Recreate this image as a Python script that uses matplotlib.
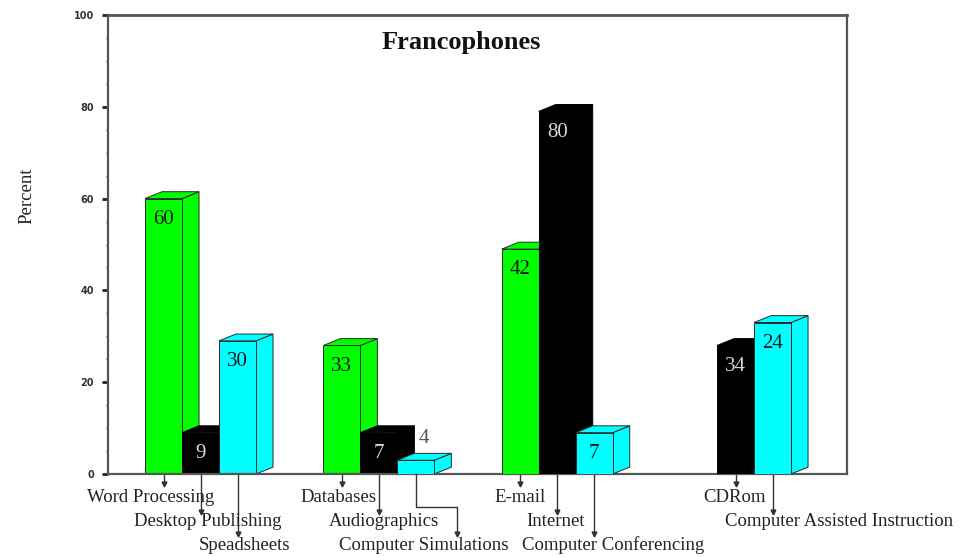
import matplotlib
matplotlib.use("Agg")
import matplotlib.pyplot as plt
from matplotlib.patches import Polygon
from matplotlib.ticker import MultipleLocator
from matplotlib.transforms import Affine2D, blended_transform_factory, offset_copy

# ---------------- data ----------------
title = "Francophones"
ylabel = "Percent"
categories = ["Word Processing", "Desktop Publishing", "Speadsheets",
              "Databases", "Audiographics", "Computer Simulations",
              "E-mail", "Internet", "Computer Conferencing",
              "CDRom", "Computer Assisted Instruction"]
bar_heights = [60, 9, 29, 28, 9, 3, 49, 79, 9, 28, 33]
value_labels = ["60", "9", "30", "33", "7", "4", "42", "80", "7", "34", "24"]
group_index = [0, 0, 0, 1, 1, 1, 2, 2, 2, 3, 3]
slot_index = [0, 1, 2, 0, 1, 2, 0, 1, 2, 1, 2]
yticks = [0, 20, 40, 60, 80, 100]

# ---------------- style / layout ----------------
slot_colors = ["#00ff00", "#000000", "#00ffff"]
label_rows = [0, 1, 2, 0, 1, 2, 0, 1, 2, 0, 1]
label_dx_px = [-13, 7, 7, -3, 5, 8, 0, -2, 19, -1, 67]
elbow_px = [0, 0, 0, 0, 0, 41, 0, 0, 0, 0, 0]
row_text_y = [498, 522, 545]
row_tip_y = [484, 512, 534]

W, H, DPI = 967, 557, 100
fig = plt.figure(figsize=(W / DPI, H / DPI), dpi=DPI)
ax_l, ax_r, ax_t, ax_b = 108, 847, 15, 474
ax = fig.add_axes([ax_l / W, 1 - ax_b / H, (ax_r - ax_l) / W, (ax_b - ax_t) / H])

bar_w = 1.0
start, gap = 1.0, 4.82
DX, DY = 0.46, 1.5
ax.set_xlim(0, (ax_r - ax_l) / 37.0)
ax.set_ylim(0, 100)

serif = ["Liberation Serif", "DejaVu Serif"]
edge = "#2a2a2a"

centers = []
for i, h in enumerate(bar_heights):
    s = slot_index[i]
    x0 = start + group_index[i] * gap + s * bar_w
    c = slot_colors[s]
    ec = "#000000" if s == 1 else edge
    z = 2 + i * 0.1
    side = Polygon([(x0 + bar_w, 0), (x0 + bar_w + DX, DY), (x0 + bar_w + DX, h + DY),
                    (x0 + bar_w, h)], closed=True, fc=c, ec=ec, lw=0.7, zorder=z)
    top = Polygon([(x0, h), (x0 + DX, h + DY), (x0 + bar_w + DX, h + DY), (x0 + bar_w, h)],
                  closed=True, fc=c, ec=ec, lw=0.7, zorder=z)
    ax.add_patch(side)
    ax.add_patch(top)
    ax.bar(x0, h, width=bar_w, align="edge", color=c, edgecolor=ec, linewidth=0.7,
           zorder=z + 0.01)
    xc = x0 + bar_w / 2
    centers.append(xc)
    if h < 6:
        ax.annotate(value_labels[i], xy=(xc, h), xytext=(6, 16), textcoords="offset points",
                    ha="center", va="center", fontsize=15, family=serif, color="#555555",
                    zorder=10)
    else:
        tc = "#d8d8d8" if s == 1 else "#1a1a1a"
        ax.annotate(value_labels[i], xy=(xc, h), xytext=(0, -15), textcoords="offset points",
                    ha="center", va="center", fontsize=15, family=serif, color=tc,
                    zorder=10)

# axes styling
ax.set_xticks([])
ax.set_yticks(yticks)
ax.yaxis.set_minor_locator(MultipleLocator(5))
ax.tick_params(axis="y", which="major", direction="out", length=4, width=2,
               color="#222222", labelsize=7, labelcolor="#333333", pad=6)
ax.tick_params(axis="y", which="minor", direction="out", length=1.5, width=1,
               color="#444444")
for lab in ax.get_yticklabels():
    lab.set_fontweight("bold")
for sp in ax.spines.values():
    sp.set_color("#555555")
    sp.set_linewidth(1.6)
ax.spines["top"].set_linewidth(2.0)

# pixel transform (y measured from top of figure)
pix = Affine2D().scale(1.0 / W, -1.0 / H).translate(0, 1) + fig.transFigure
xdata_ypix = blended_transform_factory(ax.transData, pix)
inv = fig.transFigure.inverted()

for i, name in enumerate(categories):
    xc = centers[i]
    r = label_rows[i]
    tip = row_tip_y[r]
    jog = elbow_px[i]
    if jog:
        mid = tip - 27
        line_t = offset_copy(xdata_ypix, fig=fig, x=jog * 72.0 / DPI, y=0, units="points")
        p_a = xdata_ypix.transform((xc, ax_b))
        p0 = xdata_ypix.transform((xc, mid))
        p1 = line_t.transform((xc, mid))
        p2 = line_t.transform((xc, tip))
        qa, q0, q1, q2 = (inv.transform(p) for p in (p_a, p0, p1, p2))
        fig.add_artist(plt.Line2D([qa[0], q0[0], q1[0], q2[0]], [qa[1], q0[1], q1[1], q2[1]],
                                  transform=fig.transFigure, color="#333333", lw=1))
        fig.add_artist(plt.Line2D([q2[0]], [q2[1]], transform=fig.transFigure,
                                  marker="v", markersize=3.5, color="#333333"))
    else:
        ax.plot([xc, xc], [ax_b, tip], transform=xdata_ypix, color="#333333", lw=1,
                clip_on=False)
        ax.plot([xc], [tip], transform=xdata_ypix, marker="v", markersize=3.5,
                color="#333333", clip_on=False)
    tt = offset_copy(xdata_ypix, fig=fig, x=label_dx_px[i] * 72.0 / DPI, y=0, units="points")
    ax.text(xc, row_text_y[r], name, transform=tt, ha="center", va="center",
            fontsize=13.5, family=serif, color="#222222", clip_on=False)

fig.text(461 / W, 1 - 42 / H, title, ha="center", va="center", fontsize=19,
         fontweight="bold", family=serif, color="#111111")
fig.text(27 / W, 1 - 196 / H, ylabel, ha="center", va="center", rotation=90,
         fontsize=13.5, family=serif, color="#222222")

fig.savefig("out.png", dpi=DPI, facecolor="white")
